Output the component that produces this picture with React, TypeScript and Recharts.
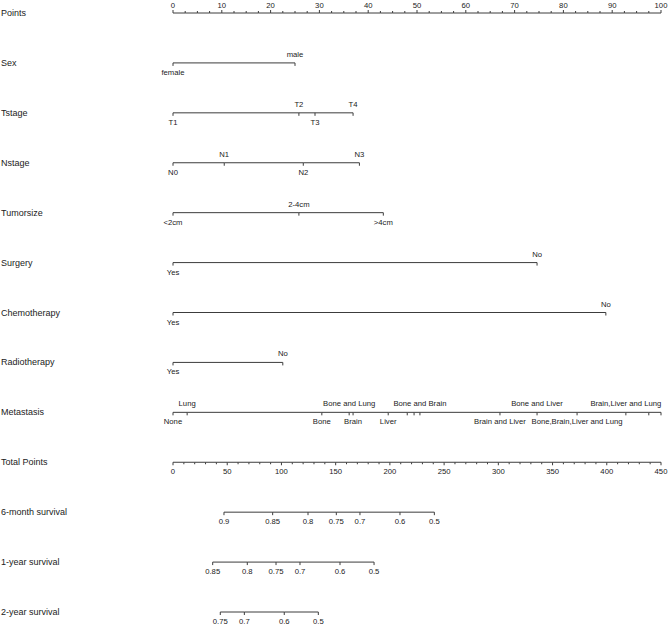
import { Scatter, ScatterChart, XAxis, YAxis } from "recharts";

const FONT = "'Liberation Sans', Arial, sans-serif";
const LINE = "#3c3c3c";

const rowNames = [
  "Points",
  "Sex",
  "Tstage",
  "Nstage",
  "Tumorsize",
  "Surgery",
  "Chemotherapy",
  "Radiotherapy",
  "Metastasis",
  "Total Points",
  "6-month survival",
  "1-year survival",
  "2-year survival",
];

// points scale (top) and total points scale
const pointsMajor = [0, 10, 20, 30, 40, 50, 60, 70, 80, 90, 100];
const totalMajor = [0, 50, 100, 150, 200, 250, 300, 350, 400, 450];

const sexLevels = ["female", "male"];
const sexScores = [0, 25];
const sexSides = ["b", "a"];

const tstageLevels = ["T1", "T2", "T3", "T4"];
const tstageScores = [0, 25.8, 29.1, 36.9];
const tstageSides = ["b", "a", "b", "a"];

const nstageLevels = ["N0", "N1", "N2", "N3"];
const nstageScores = [0, 10.5, 26.7, 38.2];
const nstageSides = ["b", "a", "b", "a"];

const sizeLevels = ["<2cm", "2-4cm", ">4cm"];
const sizeScores = [0, 25.8, 43.1];
const sizeSides = ["b", "a", "b"];

const surgeryLevels = ["Yes", "No"];
const surgeryScores = [0, 74.6];
const surgerySides = ["b", "a"];

const chemoLevels = ["Yes", "No"];
const chemoScores = [0, 88.7];
const chemoSides = ["b", "a"];

const radioLevels = ["Yes", "No"];
const radioScores = [0, 22.5];
const radioSides = ["b", "a"];

const metaLevels = [
  "None",
  "Lung",
  "Bone",
  "Bone and Lung",
  "Brain",
  "Liver",
  "",
  "",
  "Bone and Brain",
  "Brain and Liver",
  "Bone and Liver",
  "Bone,Brain,Liver and Lung",
  "Brain,Liver and Lung",
  "",
  "",
];
const metaScores = [0, 2.9, 30.5, 36.1, 36.9, 44.1, 48.0, 49.4, 50.6, 67.0, 74.6, 82.8, 92.8, 97.5, 100];
const metaSides = ["b", "a", "b", "a", "b", "b", "a", "a", "a", "b", "a", "b", "a", "a", "a"];

// survival scales: probability labels and their position in total points
const surv6Labels = ["0.9", "0.85", "0.8", "0.75", "0.7", "0.6", "0.5"];
const surv6Total = [47.0, 91.9, 124.5, 150.6, 172.4, 209.3, 241.0];

const surv12Labels = ["0.85", "0.8", "0.75", "0.7", "0.6", "0.5"];
const surv12Total = [36.6, 68.5, 95.0, 117.1, 154.0, 185.4];

const surv24Labels = ["0.75", "0.7", "0.6", "0.5"];
const surv24Total = [43.6, 65.8, 102.6, 134.0];

type Mark = { x: number; y: number; label: string; side: string; kind: string };

function makeRow(row: number, labels: string[], xs: number[], sides: string[] | string, kind = "var"): Mark[] {
  return labels
    .map((label, i) => ({
      x: xs[i],
      y: row,
      label,
      side: Array.isArray(sides) ? sides[i] : sides,
      kind,
    }))
    .sort((a, b) => a.x - b.x);
}

function scaleRow(row: number, major: number[], minorStep: number, side: string, kind: string): Mark[] {
  const marks: Mark[] = major.map((v) => ({ x: v, y: row, label: String(v), side, kind }));
  for (let i = 0; i < major.length - 1; i++) {
    for (let v = major[i] + minorStep; v < major[i + 1] - 1e-6; v += minorStep) {
      marks.push({ x: v, y: row, label: "", side, kind: kind + "-minor" });
    }
  }
  return marks.sort((a, b) => a.x - b.x);
}

const pointRows: Mark[][] = [
  scaleRow(0, pointsMajor, 2.5, "a", "top"),
  makeRow(1, sexLevels, sexScores, sexSides),
  makeRow(2, tstageLevels, tstageScores, tstageSides),
  makeRow(3, nstageLevels, nstageScores, nstageSides),
  makeRow(4, sizeLevels, sizeScores, sizeSides),
  makeRow(5, surgeryLevels, surgeryScores, surgerySides),
  makeRow(6, chemoLevels, chemoScores, chemoSides),
  makeRow(7, radioLevels, radioScores, radioSides),
  makeRow(8, metaLevels, metaScores, metaSides),
];

const totalRows: Mark[][] = [
  scaleRow(9, totalMajor, 10, "b", "total"),
  makeRow(10, surv6Labels, surv6Total, "b"),
  makeRow(11, surv12Labels, surv12Total, "b"),
  makeRow(12, surv24Labels, surv24Total, "b"),
];

function MarkShape(props: any) {
  const { cx, cy, payload } = props;
  if (cx == null || cy == null) return null;
  const { label, side, kind } = payload as Mark;
  let y2 = cy + 3;
  if (kind === "top") y2 = cy - 3;
  if (kind === "top-minor") y2 = cy - 2;
  if (kind === "total-minor") y2 = cy + 2;
  let ty = side === "a" ? cy - 6 : cy + 12;
  if (kind === "top") ty = cy - 5;
  return (
    <g>
      <line x1={cx} y1={cy} x2={cx} y2={y2} stroke={LINE} strokeWidth={1} />
      {label ? (
        <text x={cx} y={ty} textAnchor="middle" fontSize={7.7} fontFamily={FONT} fill="#222">
          {label}
        </text>
      ) : null}
    </g>
  );
}

function RowName(props: any) {
  const { y, payload } = props;
  return (
    <text x={1} y={y + 3} textAnchor="start" fontSize={9} fontFamily={FONT} fill="#222">
      {rowNames[payload.value]}
    </text>
  );
}

export default function App() {
  return (
    <div style={{ position: "absolute", left: 0, top: 0, width: 669, height: 628, background: "#fff" }}>
      <ScatterChart width={669} height={628} margin={{ top: 13, right: 8, bottom: 16, left: 0 }}>
        <XAxis xAxisId="pts" type="number" dataKey="x" domain={[0, 100]} hide />
        <XAxis xAxisId="tot" type="number" dataKey="x" domain={[0, 450]} hide />
        <YAxis
          type="number"
          dataKey="y"
          domain={[0, 12]}
          reversed
          ticks={rowNames.map((_, i) => i)}
          width={173}
          axisLine={false}
          tickLine={false}
          tick={<RowName />}
          interval={0}
        />
        {pointRows.map((data, i) => (
          <Scatter
            key={`p${i}`}
            xAxisId="pts"
            data={data}
            line={{ stroke: LINE, strokeWidth: 1 }}
            shape={<MarkShape />}
            isAnimationActive={false}
          />
        ))}
        {totalRows.map((data, i) => (
          <Scatter
            key={`t${i}`}
            xAxisId="tot"
            data={data}
            line={{ stroke: LINE, strokeWidth: 1 }}
            shape={<MarkShape />}
            isAnimationActive={false}
          />
        ))}
      </ScatterChart>
    </div>
  );
}
